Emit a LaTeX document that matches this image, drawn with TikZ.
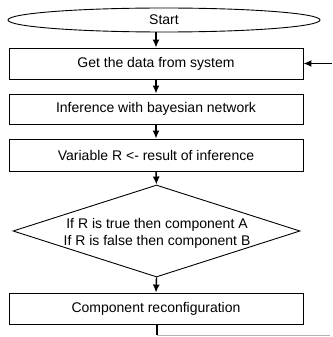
\documentclass[tikz,border=0pt]{standalone}
\usepackage{fontspec}
\setmainfont{Liberation Sans}
\usetikzlibrary{shapes.geometric,arrows.meta}
\tikzset{
  txt/.style={font=\fontsize{14}{17}\selectfont},
  procbox/.style={draw, line width=0.9pt, minimum width=294pt, minimum height=31pt, inner sep=0pt, txt},
  termin/.style={draw, ellipse, line width=0.9pt, minimum width=312pt, minimum height=24pt, inner sep=0pt, txt},
  decis/.style={draw, diamond, line width=0.9pt, minimum width=287pt, minimum height=92pt, inner sep=0pt},
  flowarr/.style={line width=1.4pt, -{Latex[length=8pt,width=7pt]}},
}
\begin{document}
\begin{tikzpicture}[x=1pt,y=1pt]
\useasboundingbox (0,0) rectangle (332,-337);
\node[termin] (start) at (164,-20) {Start};
\node[procbox] (b1) at (156,-63.5) {Get the data from system};
\node[procbox, minimum height=30pt] (b2) at (156,-109) {Inference with bayesian network};
\node[procbox, minimum height=32pt] (b3) at (156,-155) {Variable R <- result of inference};
\node[decis] (d) at (156.5,-231) {};
\node[txt, align=center, inner sep=0pt] (dt) at (157,-233) {If R is true then component A\\If R is false then component B};
\node[procbox] (b4) at (156,-308.5) {Component reconfiguration};
\coordinate (inc) at (332,-63.5);
\coordinate (bend) at (157,-335);
\coordinate (bright) at (330,-335);
\draw[flowarr] (b1.north |- start.south) -- (b1.north);
\draw[flowarr] (b1) -- (b2);
\draw[flowarr] (b2) -- (b3);
\draw[flowarr] (b3.south) -- (d.north);
\draw[flowarr] (d.south) -- (b4.north);
\draw[flowarr] (inc) -- (b1.east);
\draw[line width=1.4pt] (b4.south -| bend) -- (bend);
\draw[gray!60, line width=0.8pt] (bend) -- (bright);
\end{tikzpicture}
\end{document}
